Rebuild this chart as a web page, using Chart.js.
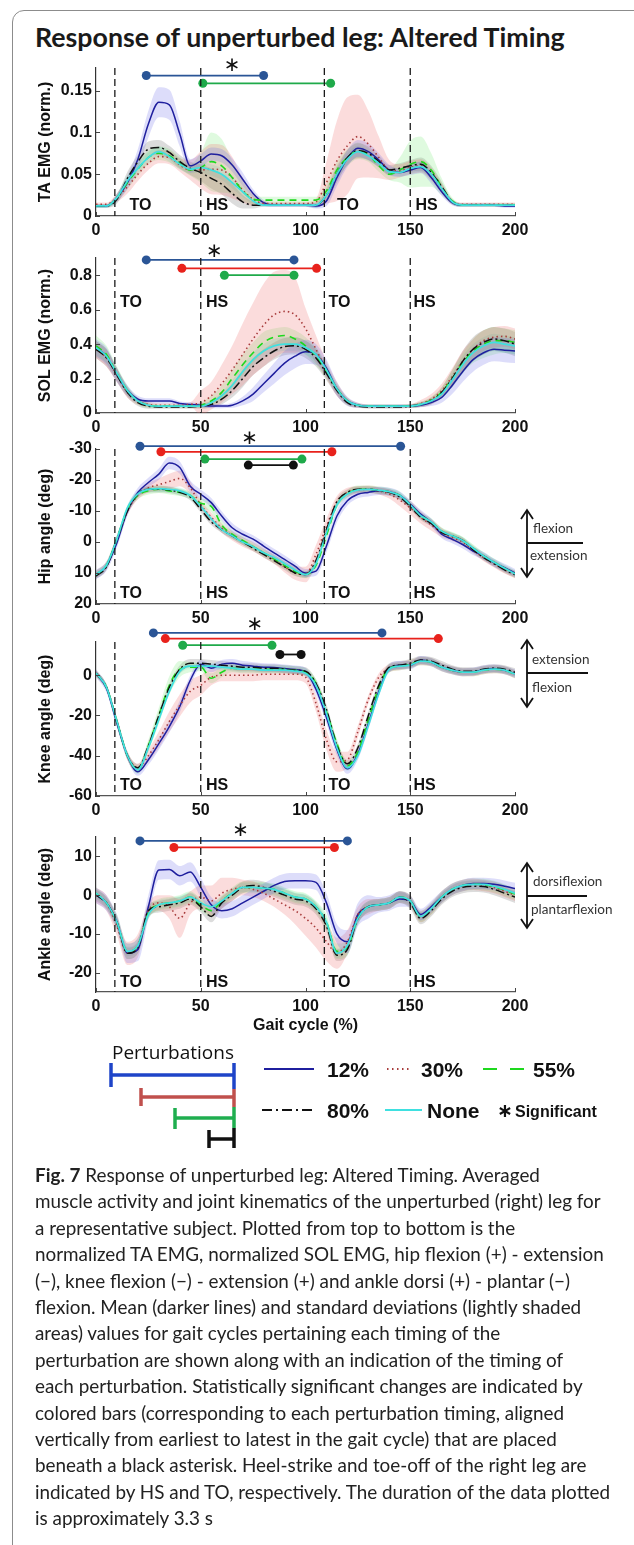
<!DOCTYPE html>
<html><head><meta charset="utf-8">
<script src="https://cdn.jsdelivr.net/npm/chart.js@4.4.1/dist/chart.umd.min.js"></script>
<style>
html,body{margin:0;padding:0;background:#fff;}
body{width:634px;height:1545px;position:relative;overflow:hidden;font-family:'Liberation Sans',Arial,sans-serif;}
#frame{position:absolute;left:12px;top:10px;width:700px;height:1600px;border:1.5px solid #8c8c8c;border-radius:12px;}
#title{position:absolute;left:35px;top:23px;font-family:Lato,sans-serif;font-weight:700;font-size:24px;line-height:29px;color:#1a1a1a;white-space:nowrap;}
canvas{position:absolute;left:0;}
svg{position:absolute;left:0;top:0;}
.t{position:absolute;white-space:nowrap;line-height:1;transform:translateY(-50%);}
.ann{font-family:Lato,sans-serif;font-size:13.5px;color:#333;}
.lg{font-family:'Liberation Sans',Arial,sans-serif;font-weight:700;font-size:21px;color:#111;}
#cap{position:absolute;left:35px;top:1162px;font-family:Lato,sans-serif;font-size:17px;line-height:26.4px;color:#222;white-space:nowrap;}
</style></head>
<body>
<div id="frame"></div>
<div id="title">Response of unperturbed leg: Altered Timing</div>
<canvas id="c0"></canvas><canvas id="c1"></canvas><canvas id="c2"></canvas><canvas id="c3"></canvas><canvas id="c4"></canvas>
<svg width="634" height="1545">
  <g stroke-width="3.5" fill="none">
    <line x1="111" y1="1075" x2="234" y2="1075" stroke="#1e44c8"/><line x1="111" y1="1063" x2="111" y2="1087" stroke="#1e44c8"/>
    <line x1="141" y1="1097" x2="234" y2="1097" stroke="#c0504d"/><line x1="141" y1="1088" x2="141" y2="1106" stroke="#c0504d"/>
    <line x1="175" y1="1118" x2="234" y2="1118" stroke="#1fae4f"/><line x1="175" y1="1108" x2="175" y2="1129" stroke="#1fae4f"/>
    <line x1="209" y1="1139" x2="234" y2="1139" stroke="#111"/><line x1="209" y1="1130" x2="209" y2="1148" stroke="#111"/>
    <line x1="234" y1="1063" x2="234" y2="1089" stroke="#1e44c8"/><line x1="234" y1="1089" x2="234" y2="1107" stroke="#c0504d"/>
    <line x1="234" y1="1107" x2="234" y2="1128" stroke="#1fae4f"/><line x1="234" y1="1128" x2="234" y2="1148" stroke="#111"/>
  </g>
  <line x1="264" y1="1069" x2="314" y2="1069" stroke="#1f1f9e" stroke-width="2"/>
  <line x1="387" y1="1069" x2="411" y2="1069" stroke="#a83c3c" stroke-width="2" stroke-dasharray="1.5 3.5"/>
  <line x1="483" y1="1069" x2="524" y2="1069" stroke="#1ed81e" stroke-width="2" stroke-dasharray="14 13"/>
  <line x1="262" y1="1110" x2="312" y2="1110" stroke="#111" stroke-width="2" stroke-dasharray="10 4 2 4"/>
  <line x1="385" y1="1110" x2="422" y2="1110" stroke="#3fe0e0" stroke-width="2"/>
  <g stroke="#111" stroke-width="1.8" fill="none">
    <line x1="527" y1="510" x2="527" y2="577"/><polyline points="521,519 527,510 533,519"/><polyline points="521,568 527,577 533,568"/>
    <line x1="527" y1="543" x2="583" y2="543"/>
    <line x1="527" y1="640" x2="527" y2="707"/><polyline points="521,649 527,640 533,649"/><polyline points="521,698 527,707 533,698"/>
    <line x1="527" y1="673" x2="588" y2="673"/>
    <line x1="527" y1="863" x2="527" y2="928"/><polyline points="521,872 527,863 533,872"/><polyline points="521,919 527,928 533,919"/>
    <line x1="527" y1="896" x2="587" y2="896"/>
  </g>
</svg>
<div class="t ann" style="left:533px;top:529px">flexion</div>
<div class="t ann" style="left:530px;top:556px">extension</div>
<div class="t ann" style="left:532px;top:660px">extension</div>
<div class="t ann" style="left:532px;top:688px">flexion</div>
<div class="t ann" style="left:533px;top:882px">dorsiflexion</div>
<div class="t ann" style="left:531px;top:910px">plantarflexion</div>
<div class="t" style="left:112px;top:1052px;font-family:'Open Sans',sans-serif;font-size:19px;color:#111;">Perturbations</div>
<div class="t lg" style="left:327px;top:1069px">12%</div>
<div class="t lg" style="left:421px;top:1069px">30%</div>
<div class="t lg" style="left:533px;top:1069px">55%</div>
<div class="t lg" style="left:327px;top:1110px">80%</div>
<div class="t lg" style="left:427px;top:1110px">None</div>
<div class="t" style="left:497px;top:1110px;font-family:'DejaVu Sans';font-size:19px;font-weight:700;color:#111;">∗</div>
<div class="t" style="left:515px;top:1112px;font-family:'Liberation Sans';font-size:16px;font-weight:700;color:#111;">Significant</div>
<div id="cap"><b>Fig. 7</b> Response of unperturbed leg: Altered Timing. Averaged<br><span id="capl2">muscle activity and joint kinematics of the unperturbed (right) leg for</span><br>a representative subject. Plotted from top to bottom is the<br>normalized TA EMG, normalized SOL EMG, hip flexion (+) - extension<br>(−), knee flexion (−) - extension (+) and ankle dorsi (+) - plantar (−)<br>flexion. Mean (darker lines) and standard deviations (lightly shaded<br>areas) values for gait cycles pertaining each timing of the<br>perturbation are shown along with an indication of the timing of<br>each perturbation. Statistically significant changes are indicated by<br>colored bars (corresponding to each perturbation timing, aligned<br>vertically from earliest to latest in the gait cycle) that are placed<br>beneath a black asterisk. Heel-strike and toe-off of the right leg are<br>indicated by HS and TO, respectively. The duration of the data plotted<br>is approximately 3.3 s</div>
<script>
// ---------------- DATA ----------------
const gaitX = [0,5,10,15,20,25,30,35,40,45,50,55,60,65,70,75,80,85,90,95,100,105,110,115,120,125,130,135,140,145,150,155,160,165,170,175,180,185,190,195,200];
const xTicks = [0,50,100,150,200];
const seriesNames = ['12%','30%','55%','80%','None'];
const eventX = [9,50,109,150];
const eventText = ['TO','HS','TO','HS'];

// TA EMG (norm.)
const taTicks = [0,0.05,0.1,0.15];
const ta12 = [0.012,0.012,0.022,0.040,0.068,0.110,0.136,0.133,0.098,0.060,0.066,0.074,0.072,0.061,0.044,0.027,0.016,0.013,0.013,0.013,0.013,0.012,0.018,0.046,0.069,0.081,0.077,0.067,0.055,0.052,0.055,0.058,0.046,0.029,0.016,0.013,0.013,0.013,0.013,0.012,0.012];
const ta30 = [0.014,0.014,0.022,0.035,0.050,0.063,0.071,0.070,0.061,0.055,0.055,0.056,0.055,0.046,0.031,0.020,0.015,0.015,0.015,0.015,0.015,0.017,0.040,0.066,0.084,0.095,0.086,0.070,0.055,0.054,0.058,0.060,0.050,0.033,0.017,0.014,0.014,0.014,0.014,0.014,0.014];
const ta55 = [0.012,0.012,0.022,0.040,0.056,0.070,0.075,0.072,0.063,0.055,0.058,0.065,0.060,0.046,0.030,0.020,0.019,0.019,0.019,0.019,0.019,0.019,0.030,0.055,0.070,0.078,0.073,0.060,0.050,0.055,0.062,0.065,0.055,0.035,0.018,0.013,0.013,0.013,0.013,0.013,0.013];
const ta80 = [0.012,0.012,0.020,0.045,0.065,0.080,0.082,0.076,0.065,0.057,0.052,0.045,0.038,0.027,0.017,0.013,0.013,0.013,0.013,0.013,0.013,0.013,0.025,0.050,0.070,0.078,0.075,0.065,0.055,0.057,0.060,0.062,0.052,0.035,0.017,0.013,0.013,0.013,0.013,0.013,0.013];
const taNone = [0.012,0.012,0.022,0.042,0.057,0.070,0.077,0.071,0.062,0.056,0.058,0.055,0.050,0.040,0.029,0.018,0.013,0.013,0.013,0.013,0.013,0.013,0.025,0.050,0.068,0.077,0.072,0.063,0.053,0.052,0.057,0.059,0.050,0.033,0.017,0.013,0.013,0.013,0.013,0.013,0.013];
const taSd12 = [0.002,0.002,0.005,0.008,0.012,0.016,0.018,0.018,0.015,0.008,0.008,0.008,0.008,0.008,0.008,0.005,0.003,0.002,0.002,0.002,0.002,0.003,0.006,0.010,0.010,0.010,0.010,0.008,0.006,0.005,0.006,0.007,0.007,0.005,0.003,0.002,0.002,0.002,0.002,0.002,0.002];
const taSd30 = [0.002,0.002,0.005,0.008,0.008,0.008,0.008,0.008,0.008,0.012,0.022,0.030,0.030,0.025,0.015,0.008,0.003,0.002,0.002,0.002,0.002,0.004,0.025,0.048,0.058,0.050,0.040,0.025,0.012,0.008,0.008,0.008,0.008,0.006,0.003,0.002,0.002,0.002,0.002,0.002,0.002];
const taSd55 = [0.002,0.002,0.005,0.008,0.008,0.008,0.008,0.008,0.007,0.007,0.018,0.035,0.032,0.020,0.012,0.006,0.004,0.004,0.004,0.004,0.004,0.004,0.008,0.010,0.010,0.010,0.008,0.007,0.007,0.015,0.028,0.030,0.020,0.010,0.004,0.002,0.002,0.002,0.002,0.002,0.002];
const taSd80 = [0.002,0.002,0.005,0.008,0.008,0.009,0.009,0.008,0.008,0.008,0.010,0.012,0.012,0.012,0.008,0.004,0.002,0.002,0.002,0.002,0.002,0.003,0.008,0.010,0.009,0.009,0.008,0.007,0.006,0.006,0.007,0.008,0.008,0.006,0.003,0.002,0.002,0.002,0.002,0.002,0.002];
const taSdNone = [0.002,0.002,0.004,0.006,0.006,0.006,0.006,0.006,0.006,0.005,0.006,0.007,0.007,0.007,0.006,0.004,0.002,0.002,0.002,0.002,0.002,0.003,0.006,0.008,0.007,0.007,0.006,0.005,0.005,0.005,0.006,0.006,0.006,0.005,0.003,0.002,0.002,0.002,0.002,0.002,0.002];
const taSigStart = [24,51];
const taSigEnd = [80,112];
const taSigLevel = [0.168,0.1587];
const taSigGroup = [0,2];
const taStar = [65,0.180];

// SOL EMG (norm.)
const solTicks = [0,0.2,0.4,0.6,0.8];
const sol12 = [0.38,0.33,0.22,0.13,0.08,0.07,0.07,0.07,0.055,0.05,0.045,0.04,0.04,0.045,0.07,0.11,0.17,0.23,0.29,0.33,0.355,0.34,0.26,0.14,0.07,0.045,0.04,0.04,0.04,0.04,0.04,0.045,0.06,0.09,0.16,0.24,0.31,0.35,0.37,0.365,0.36];
const sol30 = [0.37,0.32,0.22,0.12,0.07,0.05,0.045,0.045,0.045,0.05,0.06,0.10,0.17,0.25,0.34,0.43,0.51,0.57,0.59,0.57,0.49,0.37,0.25,0.14,0.07,0.045,0.04,0.04,0.04,0.04,0.04,0.055,0.08,0.13,0.21,0.30,0.37,0.42,0.44,0.445,0.43];
const sol55 = [0.39,0.34,0.23,0.13,0.07,0.045,0.04,0.04,0.04,0.04,0.045,0.07,0.12,0.20,0.28,0.35,0.41,0.44,0.45,0.43,0.39,0.33,0.24,0.14,0.07,0.045,0.04,0.04,0.04,0.04,0.04,0.05,0.075,0.12,0.20,0.29,0.36,0.40,0.42,0.42,0.41];
const sol80 = [0.37,0.32,0.22,0.12,0.06,0.04,0.035,0.035,0.035,0.035,0.04,0.05,0.08,0.13,0.20,0.27,0.32,0.36,0.385,0.39,0.37,0.32,0.23,0.13,0.06,0.04,0.035,0.035,0.035,0.035,0.04,0.05,0.07,0.12,0.20,0.30,0.37,0.41,0.43,0.42,0.40];
const solNone = [0.38,0.33,0.23,0.13,0.07,0.045,0.04,0.04,0.04,0.04,0.04,0.06,0.10,0.16,0.24,0.31,0.36,0.39,0.40,0.40,0.38,0.34,0.25,0.14,0.07,0.045,0.04,0.04,0.04,0.04,0.04,0.05,0.07,0.11,0.19,0.28,0.35,0.39,0.41,0.40,0.39];
const solSd12 = [0.05,0.05,0.04,0.03,0.02,0.015,0.015,0.015,0.012,0.012,0.012,0.012,0.012,0.015,0.025,0.04,0.05,0.06,0.07,0.07,0.07,0.06,0.05,0.04,0.025,0.015,0.01,0.01,0.01,0.01,0.01,0.012,0.02,0.03,0.05,0.06,0.07,0.07,0.07,0.07,0.07];
const solSd30 = [0.05,0.05,0.04,0.03,0.02,0.015,0.012,0.012,0.012,0.012,0.07,0.08,0.11,0.14,0.18,0.21,0.24,0.25,0.24,0.22,0.12,0.08,0.05,0.04,0.02,0.015,0.01,0.01,0.01,0.01,0.012,0.02,0.03,0.04,0.05,0.06,0.06,0.06,0.06,0.06,0.06];
const solSd55 = [0.06,0.05,0.04,0.03,0.02,0.015,0.01,0.01,0.01,0.01,0.015,0.03,0.04,0.05,0.06,0.06,0.06,0.05,0.05,0.05,0.05,0.05,0.04,0.03,0.02,0.01,0.01,0.01,0.01,0.01,0.01,0.015,0.02,0.03,0.05,0.06,0.07,0.08,0.08,0.07,0.07];
const solSd80 = [0.05,0.05,0.04,0.03,0.02,0.015,0.01,0.01,0.01,0.01,0.015,0.02,0.03,0.04,0.05,0.05,0.05,0.05,0.05,0.05,0.05,0.05,0.04,0.03,0.02,0.01,0.01,0.01,0.01,0.01,0.01,0.015,0.02,0.03,0.05,0.06,0.07,0.07,0.07,0.07,0.07];
const solSdNone = [0.04,0.04,0.03,0.025,0.015,0.01,0.01,0.01,0.01,0.01,0.01,0.015,0.02,0.03,0.035,0.04,0.04,0.04,0.04,0.04,0.04,0.04,0.035,0.025,0.015,0.01,0.01,0.01,0.01,0.01,0.01,0.01,0.015,0.025,0.04,0.05,0.05,0.05,0.05,0.05,0.05];
const solSigStart = [24,41,61.3];
const solSigEnd = [94.5,105.3,94.5];
const solSigLevel = [0.889,0.84,0.80];
const solSigGroup = [0,1,2];
const solStar = [56.5,0.937];

// Hip angle (deg)
const hipTicks = [-30,-20,-10,0,10,20];
const hip12 = [10.5,7.8,0.2,-10,-16,-19.2,-21.9,-25.5,-24,-18,-15.4,-12.7,-8.4,-4.6,-2.5,-0.9,1.3,3.5,5.6,7.8,10,9.4,1.3,-8.4,-13.3,-15.4,-16,-16.5,-16.2,-15,-12.2,-9,-6.3,-2.5,-0.9,0.8,2.9,4.5,6.7,8.3,10];
const hip30 = [10.5,7.5,-1,-10,-15,-17.5,-18.5,-19.5,-20.5,-17.5,-12,-8,-4.5,-2,0,1.5,3.5,5.5,8,10,10.5,4,-5,-13,-16,-16.8,-17,-16.5,-15.5,-13.5,-11,-8,-5.5,-3,-1.5,0,2.5,5,7,9,10.5];
const hip55 = [10.5,7.5,-1,-10.5,-15,-16.5,-17,-16.5,-16,-15,-12.5,-11.5,-5.5,-2.5,-0.5,1.5,3.5,5.5,7.5,9.5,10.5,7.5,-2,-12,-15.5,-17,-17,-16.7,-16.2,-15,-12,-8.5,-6.5,-3.5,-2,-0.5,2,4.5,6.5,8.5,10.3];
const hip80 = [11,8,-1,-10,-15.5,-17,-17,-16.8,-16,-14.5,-10.5,-6.5,-4,-2,0,2,4,6,8,10,10.5,6,-4,-13,-16,-17,-17,-16.5,-16,-14.5,-11.5,-8,-6,-3,-2,-0.5,2.5,5,7,9,10.5];
const hipNone = [10.5,7.5,-1,-11,-15.5,-17,-17.2,-17,-16.5,-15,-11.5,-7.5,-4,-2,0,1.5,3.5,5,7,9,10.5,7,-3,-12,-15.5,-16.8,-17,-16.7,-16.2,-15,-12,-8.5,-6.5,-3.5,-2,-0.5,2,4.5,6.5,8.5,10.3];
const hipSd12 = [1.5,1.5,1.5,1.5,1.5,1.5,1.8,2,2,1.8,1.5,1.5,1.5,1.5,1.3,1.3,1.3,1.3,1.3,1.3,1.3,1.5,2,2,1.5,1.3,1.3,1.3,1.3,1.3,1.3,1.3,1.3,1.3,1.3,1.3,1.3,1.3,1.3,1.3,1.3];
const hipSd30 = [1.2,1.2,1.2,1.2,1.2,1.5,2,2.5,2.5,2,1.5,1.5,1.5,1.5,1.5,1.5,1.5,1.5,1.8,2.2,2.5,3,2.5,1.8,1.5,1.2,1.2,1.2,1.5,2,2.2,2,1.8,1.5,1.2,1.2,1.2,1.2,1.2,1.2,1.2];
const hipSd55 = [1.2,1.2,1.2,1.2,1.2,1.2,1.2,1.2,1.2,1.2,1.5,1.8,1.5,1.2,1.2,1.2,1.2,1.2,1.2,1.2,1.2,1.2,1.5,1.2,1.2,1.2,1.2,1.2,1.2,1.2,1.2,1.2,1.2,1.2,1.2,1.2,1.2,1.2,1.2,1.2,1.2];
const hipSd80 = [1,1,1,1,1,1,1,1,1,1,1,1,1,1,1,1,1,1,1,1,1,1,1,1,1,1,1,1,1,1,1,1,1,1,1,1,1,1,1,1,1];
const hipSdNone = [1,1,1,1,1,1,1,1,1,1,1,1,1,1,1,1,1,1,1,1,1,1,1,1,1,1,1,1,1,1,1,1,1,1,1,1,1,1,1,1,1];
const hipSigStart = [21,31,52,72.7];
const hipSigEnd = [145.4,112.6,98.3,94.2];
const hipSigLevel = [-30.9,-29.1,-26.75,-24.8];
const hipSigGroup = [0,1,2,3];
const hipStar = [73.3,-33.2];

// Knee angle (deg)
const kneeTicks = [-60,-40,-20,0];
const knee12 = [1,-6.5,-24,-40,-48,-42,-34,-25.5,-15.5,-2.5,5.5,3.5,5.5,6,5,4.5,4,3.8,3.3,2.8,1.7,-7,-21,-37,-46.5,-39,-24,-8,3.5,5,5,7.5,6.5,4,2.5,1.5,1.7,2.8,3.3,2.5,0.8];
const knee30 = [1,-6,-23,-40,-46,-40,-32,-23,-15,-8,-5,-1,0,0,0,0,0.5,0.5,0.5,0.5,-1,-14,-32,-43,-42,-28,-12,-1,3.5,4.5,5.5,7,6.5,4,2.5,1.5,1.5,2.5,3,2.5,0.5];
const knee55 = [1,-6,-23,-40,-47,-35,-20,-5,3,4,4,-1.5,1.5,3.5,3,3,3,3,3,2.5,1.5,-4,-18,-34,-45,-38,-22,-6,3.5,4.5,5.5,7,6.5,4,2.5,1.5,1.5,2.5,3,2.5,0.5];
const knee80 = [1,-6,-23,-40,-46,-35,-20,-6,3,6,6,5.5,5,4.5,4,4,3.5,3.5,3,2.5,2,-4,-17,-35,-44,-36,-20,-5,4,5,6,7.5,7,5,3,2,2,3,3.5,3,1.5];
const kneeNone = [1,-6,-23,-40,-47,-36,-22,-8,2,4.5,4.5,4.5,4,3.5,3,3,2.5,2.5,2.5,2,1,-5,-19,-36,-46,-40,-25,-9,3,4.5,5,7,6.5,4,2.5,1.5,1.5,2.5,3,2.5,0.5];
const kneeSd12 = [2,2,2,2,2,2.5,3,3,3,2.5,2,2,2,2,2,2,2,2,2,2,2,2.5,3,3,2.5,3,3,2.5,2,2,2,2,2,2,2,2,2,2,2,2,2];
const kneeSd30 = [1.5,1.5,2,2,2,3,4,5,5.5,5.5,5,4,3,3,3,3,3,3,3,3,3,4,5,5,4,3,2,2,2,2,2,2,2,2,2,2,2,2,2,2,2];
const kneeSd55 = [1.5,1.5,2,2,2,3,4,4.5,4,2.5,2,2.5,2.5,2,2,2,2,2,2,2,2,2,2.5,2.5,2,2,2,2,2,2,2,2,2,2,2,2,2,2,2,2,2];
const kneeSd80 = [1.5,1.5,2,2,2,2,2,2,2,2,2,2,2,2,2,2,2,2,2,2,2,2,2.5,2.5,2,2,2,2,2,2,2,2,2,2,2,2,2,2,2,2,2];
const kneeSdNone = [1.5,1.5,1.5,1.5,1.5,1.5,1.5,1.5,1.5,1.5,1.5,1.5,1.5,1.5,1.5,1.5,1.5,1.5,1.5,1.5,1.5,1.5,1.5,1.5,1.5,1.5,1.5,1.5,1.5,1.5,1.5,1.5,1.5,1.5,1.5,1.5,1.5,1.5,1.5,1.5,1.5];
const kneeSigStart = [27.4,33.1,41.4,87.8];
const kneeSigEnd = [136.5,163.4,84,97.9];
const kneeSigLevel = [21,18.2,14.9,10.3];
const kneeSigGroup = [0,1,2,3];
const kneeStar = [75.8,24.8];

// Ankle angle (deg)
const ankleTicks = [-20,-10,0,10];
const ankle12 = [0,-2,-7,-15,-14,-3,6.5,6.6,5,6,2,-2.5,-4,-3.5,-2,-0.5,1,2.5,3.5,3.7,3.7,3.3,-2,-10,-12,-5,-3,-2.5,-2,-1,-1.5,-5,-3,-0.5,1.5,2.5,3,3,2.8,2.3,1.7];
const ankle30 = [0,-2,-8,-15,-13,-4,-2,-3,-6,-2,-0.5,-1.5,0.5,1.5,2,1.5,0.5,-1,-2.5,-4,-6,-8.5,-12,-15,-12,-5,-3,-2.5,-2,-0.5,-1.5,-5.5,-3.5,-0.5,1.5,2.5,2.8,2.5,2,1,0];
const ankle55 = [0.5,-2,-7,-14.5,-13,-4.5,-2.5,-2,-1.5,-0.5,-2.5,-4,-1.5,0.5,2,2,1.8,1.5,0.5,-0.5,-1,-3,-7,-14.5,-13.5,-6,-3,-2.5,-2,-0.5,-1.5,-5.5,-3.5,-0.5,1.5,2.5,2.8,2.7,2.2,1.3,0.3];
const ankle80 = [0,-2,-7,-15,-13.5,-4,-3,-2.5,-2,-1,-3,-5.5,-2,0,2,2.5,2,1,0,-1,-1.5,-3.5,-8,-15.5,-14,-6,-3,-2.5,-2,-0.5,-2,-6,-4,-1,1,2,2.3,2.2,1.5,0.5,-0.5];
const ankleNone = [0.5,-2,-7,-14.5,-13,-5,-2.5,-2,-1.5,-0.5,-2,-3,-1.5,0.5,2,2,1.8,1.5,0.5,-0.5,-1,-3,-7,-15,-13,-6,-3,-2.5,-2,-0.5,-1.5,-5.5,-3.5,-0.5,1.5,2.5,2.8,2.8,2.3,1.5,0.5];
const ankleSd12 = [2,2,2,2.5,3,3,2.5,2.5,2.5,2.5,2.5,2,2,2,2,2,2,2,2,2,2,2,2.5,2.5,3,3,3,2,2,2,1.5,1.5,1.5,1.5,1.5,1.5,1.5,1.5,1.5,1.5,1.5];
const ankleSd30 = [2,2,2.5,3,3,2,2,3,5,3,3,4,4,3,2,2,2,2,2.5,3.5,4.5,5,5,4,3,2,2,1.5,1.5,1.5,1.5,1.5,1.5,1.5,1.5,1.5,1.5,1.5,1.5,1.5,1.5];
const ankleSd55 = [1.5,1.5,2,2,2,1.5,1.5,1.5,1.5,1.5,1.5,1.5,1.5,1.5,1.5,1.5,1.5,1.5,1.5,1.5,1.5,1.5,2,2,2,1.5,1.5,1.5,1.5,1.5,1.5,1.5,1.5,1.5,1.5,1.5,1.5,1.5,1.5,1.5,1.5];
const ankleSd80 = [1.5,1.5,1.5,1.5,1.5,1.5,1.5,1.5,1.5,1.5,1.5,1.5,1.5,1.5,1.5,1.5,1.5,1.5,1.5,1.5,1.5,1.5,1.5,1.5,1.5,1.5,1.5,1.5,1.5,1.5,1.5,1.5,1.5,1.5,1.5,1.5,1.5,1.5,1.5,1.5,1.5];
const ankleSdNone = [1.2,1.2,1.2,1.2,1.2,1.2,1.2,1.2,1.2,1.2,1.2,1.2,1.2,1.2,1.2,1.2,1.2,1.2,1.2,1.2,1.2,1.2,1.2,1.2,1.2,1.2,1.2,1.2,1.2,1.2,1.2,1.2,1.2,1.2,1.2,1.2,1.2,1.2,1.2,1.2,1.2];
const ankleSigStart = [21,37.2];
const ankleSigEnd = [120,113.8];
const ankleSigLevel = [14,12.3];
const ankleSigGroup = [0,1];
const ankleStar = [69,16.6];

// ---------------- STYLE ----------------
const lineColors = ['#1f1f9e','#a83c3c','#1ed81e','#111111','#3fe0e0'];
const lineWidths = [1.5,1.6,1.6,1.5,1.7];
const lineDash = [[],[1.5,3],[7,5],[9,3,2,3],[]];
const lineOrder = [4,3,2,1,0];
const bandColors = ['rgba(100,100,230,0.22)','rgba(240,110,110,0.24)','rgba(110,230,110,0.22)','rgba(80,80,80,0.2)','rgba(90,225,225,0.22)'];
const sigColors = ['#2a5596','#e8221c','#1faa4a','#111111'];
const FONT = "'Liberation Sans', Arial, sans-serif";

const panels = [
  {title:'TA EMG (norm.)', top:68, bottom:216, min:0, max:0.177, reverse:false, ticks:taTicks,
   series:[ta12,ta30,ta55,ta80,taNone], sd:[taSd12,taSd30,taSd55,taSd80,taSdNone],
   sigS:taSigStart, sigE:taSigEnd, sigL:taSigLevel, sigG:taSigGroup, star:taStar, labelX:[16,52.5,115,152.5], labelY:0.012},
  {title:'SOL EMG (norm.)', top:258, bottom:413, min:0, max:0.9, reverse:false, ticks:solTicks,
   series:[sol12,sol30,sol55,sol80,solNone], sd:[solSd12,solSd30,solSd55,solSd80,solSdNone],
   sigS:solSigStart, sigE:solSigEnd, sigL:solSigLevel, sigG:solSigGroup, star:solStar, labelX:[11.5,52.5,111,151.5], labelY:0.64},
  {title:'Hip angle (deg)', top:449, bottom:604, min:-30, max:20, reverse:true, ticks:hipTicks,
   series:[hip12,hip30,hip55,hip80,hipNone], sd:[hipSd12,hipSd30,hipSd55,hipSd80,hipSdNone],
   sigS:hipSigStart, sigE:hipSigEnd, sigL:hipSigLevel, sigG:hipSigGroup, star:hipStar, labelX:[11.5,52.5,111,151.5], labelY:16.5},
  {title:'Knee angle (deg)', top:642, bottom:796, min:-60, max:16.5, reverse:false, ticks:kneeTicks,
   series:[knee12,knee30,knee55,knee80,kneeNone], sd:[kneeSd12,kneeSd30,kneeSd55,kneeSd80,kneeSdNone],
   sigS:kneeSigStart, sigE:kneeSigEnd, sigL:kneeSigLevel, sigG:kneeSigGroup, star:kneeStar, labelX:[11.5,52.5,111,151.5], labelY:-55},
  {title:'Ankle angle (deg)', top:837, bottom:992, min:-25, max:15, reverse:false, ticks:ankleTicks,
   series:[ankle12,ankle30,ankle55,ankle80,ankleNone], sd:[ankleSd12,ankleSd30,ankleSd55,ankleSd80,ankleSdNone],
   sigS:ankleSigStart, sigE:ankleSigEnd, sigL:ankleSigLevel, sigG:ankleSigGroup, star:ankleStar, labelX:[11.5,52.5,111,151.5], labelY:-22.5, last:true}
];

function makeDecor(p){
  return {
    id:'decor',
    afterDatasetsDraw(chart){
      const {ctx, chartArea:a, scales:{x,y}} = chart;
      ctx.save();
      ctx.strokeStyle='#444'; ctx.lineWidth=1;
      const seg=(x1,y1,x2,y2)=>{ctx.beginPath();ctx.moveTo(x1,y1);ctx.lineTo(x2,y2);ctx.stroke();};
      xTicks.forEach(v=>{const px=Math.round(x.getPixelForValue(v))+0.5; seg(px,a.bottom,px,a.bottom-4);});
      p.ticks.forEach(v=>{const py=Math.round(y.getPixelForValue(v))+0.5; seg(a.left,py,a.left+4,py);});
      ctx.setLineDash([7,4]); ctx.strokeStyle='#1a1a1a'; ctx.lineWidth=1.3;
      eventX.forEach(v=>{const px=x.getPixelForValue(v); seg(px,a.top,px,a.bottom);});
      ctx.setLineDash([]);
      ctx.fillStyle='#111'; ctx.textBaseline='middle'; ctx.textAlign='left';
      ctx.font="bold 16px "+FONT;
      eventText.forEach((t,i)=>ctx.fillText(t, x.getPixelForValue(p.labelX[i]), y.getPixelForValue(p.labelY)));
      ctx.font="20px 'DejaVu Sans'"; ctx.textAlign='center';
      ctx.fillText('\u2217', x.getPixelForValue(p.star[0]), y.getPixelForValue(p.star[1]));
      ctx.restore();
    }
  };
}

function makeDatasets(p){
  const ds=[];
  p.series.forEach((arr,i)=>{
    ds.push({label:seriesNames[i], data:gaitX.map((x,j)=>({x,y:arr[j]})), borderColor:lineColors[i], borderWidth:lineWidths[i],
      borderDash:lineDash[i], pointRadius:0, pointHoverRadius:0, fill:false, cubicInterpolationMode:'monotone', order:lineOrder[i]});
  });
  p.sigS.forEach((s,k)=>{
    const c=sigColors[p.sigG[k]];
    ds.push({data:[{x:s,y:p.sigL[k]},{x:p.sigE[k],y:p.sigL[k]}], borderColor:c, backgroundColor:c, pointBackgroundColor:c,
      pointBorderColor:c, pointBorderWidth:0, pointRadius:4.5, pointHoverRadius:16, borderWidth:1.8, fill:false, clip:false, order:-1});
  });
  p.series.forEach((arr,i)=>{
    const sd=p.sd[i];
    ds.push({data:gaitX.map((x,j)=>({x,y:arr[j]-sd[j]})), borderColor:'rgba(0,0,0,0)', borderWidth:0, pointRadius:0, pointHoverRadius:0, fill:false, cubicInterpolationMode:'monotone', order:10});
    ds.push({data:gaitX.map((x,j)=>({x,y:arr[j]+sd[j]})), borderColor:'rgba(0,0,0,0)', borderWidth:0, pointRadius:0, pointHoverRadius:0, fill:'-1', backgroundColor:bandColors[i], cubicInterpolationMode:'monotone', order:10});
  });
  return ds;
}

const PADTOP = 32;
panels.forEach((p,idx)=>{
  const xh = p.last ? 50 : 28;
  const cv = document.getElementById('c'+idx);
  const h = PADTOP + (p.bottom - p.top) + xh;
  cv.width = 634; cv.height = h;
  cv.style.width='634px'; cv.style.height=h+'px'; cv.style.top=(p.top-PADTOP)+'px';
  new Chart(cv, {
    type:'line',
    data:{datasets:makeDatasets(p)},
    options:{
      responsive:false, animation:false, devicePixelRatio:1, events:[],
      layout:{padding:{top:PADTOP,left:0,right:119,bottom:0}},
      plugins:{legend:{display:false}, tooltip:{enabled:false}},
      scales:{
        x:{type:'linear', min:0, max:200, grid:{display:false, drawTicks:false, tickLength:0}, border:{display:true,color:'#555',width:1.2},
          ticks:{font:{family:FONT,size:16,weight:'bold'}, color:'#111', padding:5, maxRotation:0, autoSkip:false, callback:v=>String(v)},
          afterBuildTicks:s=>{s.ticks = xTicks.map(v=>({value:v}));},
          afterFit:s=>{s.height = xh;},
          title:{display:!!p.last, text:'Gait cycle (%)', font:{family:FONT,size:16,weight:'bold'}, color:'#111', padding:{top:0,bottom:7}}
        },
        y:{type:'linear', min:p.min, max:p.max, reverse:p.reverse, grid:{display:false, drawTicks:false, tickLength:0}, border:{display:true,color:'#333',width:1.2},
          ticks:{font:{family:FONT,size:16,weight:'bold'}, color:'#111', padding:4, autoSkip:false, callback:v=>String(v)},
          afterBuildTicks:s=>{s.ticks = p.ticks.map(v=>({value:v}));},
          afterFit:s=>{s.width = 96;},
          title:{display:true, text:p.title, font:{family:FONT,size:16,weight:'bold'}, color:'#111', padding:{top:36,bottom:0}}
        }
      }
    },
    plugins:[makeDecor(p)]
  });
});

(function(){
  const l2=document.getElementById('capl2'); const cap=document.getElementById('cap');
  const w=l2.getBoundingClientRect().width; if(w>0) cap.style.fontSize=(17*566/w)+'px';
  const t=document.getElementById('title'); const tw=t.getBoundingClientRect().width; if(tw>0) t.style.fontSize=(24*530/tw)+'px';
})();
</script>
</body></html>
